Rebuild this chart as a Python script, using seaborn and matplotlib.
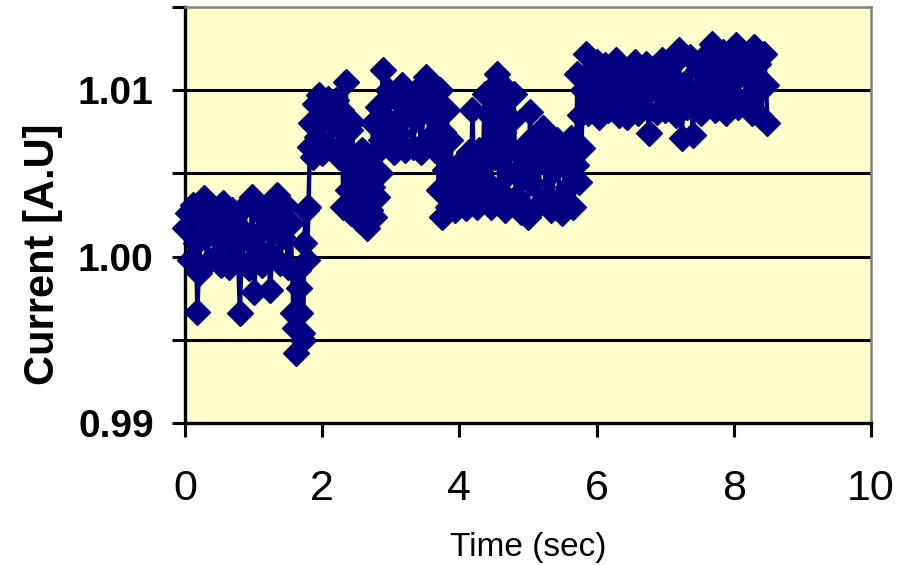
import matplotlib
matplotlib.use("Agg")
import matplotlib.pyplot as plt
import seaborn as sns
import pandas as pd

# Current trace, split into time windows (sec, A.U)
# 0 - 1.8 s : lower plateau with a few dips
t1 = [0.00, 0.04, 0.08, 0.12, 0.16, 0.18, 0.20, 0.24, 0.28, 0.32,
      0.36, 0.40, 0.44, 0.48, 0.52, 0.56, 0.60, 0.64, 0.68, 0.72,
      0.76, 0.80, 0.82, 0.86, 0.90, 0.94, 0.98, 1.01, 1.04, 1.08,
      1.12, 1.16, 1.20, 1.24, 1.27, 1.30, 1.34, 1.38, 1.42, 1.46,
      1.50, 1.54, 1.58, 1.60, 1.62, 1.64, 1.66, 1.68, 1.70, 1.72,
      1.74, 1.76, 1.78, 1.80]
i1 = [1.0017, 1.0026, 0.9998, 1.0031, 1.0008, 0.9967, 0.9990, 1.0022, 1.0035, 0.9996,
      1.0014, 1.0030, 1.0000, 1.0024, 0.9995, 1.0032, 1.0010, 0.9994, 1.0028, 1.0005,
      1.0019, 0.9966, 0.9997, 1.0030, 1.0012, 0.9993, 1.0036, 0.9979, 1.0006, 1.0027,
      0.9995, 1.0018, 1.0030, 0.9980, 1.0001, 1.0024, 1.0037, 0.9996, 1.0012, 1.0031,
      0.9994, 1.0020, 0.9966, 0.9957, 0.9942, 0.9992, 0.9981, 0.9966, 0.9954, 0.9950,
      1.0008, 1.0028, 0.9998, 1.0030]

# 1.8 - 2.9 s : jump up, then switching between two levels
t2 = [1.82, 1.84, 1.87, 1.90, 1.93, 1.96, 2.00, 2.04, 2.08, 2.12,
      2.16, 2.20, 2.24, 2.28, 2.31, 2.34, 2.36, 2.38, 2.40, 2.42,
      2.44, 2.46, 2.48, 2.50, 2.52, 2.54, 2.56, 2.58, 2.60, 2.62,
      2.64, 2.66, 2.68, 2.70, 2.72, 2.74, 2.76, 2.78, 2.80, 2.82,
      2.84, 2.86, 2.88]
i2 = [1.0066, 1.0080, 1.0060, 1.0092, 1.0072, 1.0097, 1.0062, 1.0086, 1.0095, 1.0066,
      1.0079, 1.0094, 1.0060, 1.0088, 1.0030, 1.0105, 1.0082, 1.0040, 1.0076, 1.0026,
      1.0081, 1.0050, 1.0030, 1.0060, 1.0038, 1.0022, 1.0052, 1.0064, 1.0034, 1.0046,
      1.0020, 1.0017, 1.0056, 1.0028, 1.0042, 1.0080, 1.0024, 1.0062, 1.0036, 1.0090,
      1.0050, 1.0070, 1.0112]

# 2.9 - 3.9 s : upper level
t3 = [2.92, 2.96, 3.00, 3.04, 3.08, 3.12, 3.16, 3.20, 3.24, 3.28,
      3.32, 3.36, 3.40, 3.44, 3.48, 3.52, 3.56, 3.60, 3.64, 3.68,
      3.70, 3.72, 3.74, 3.76, 3.79, 3.82, 3.84, 3.87, 3.90]
i3 = [1.0068, 1.0100, 1.0080, 1.0063, 1.0095, 1.0074, 1.0103, 1.0064, 1.0087, 1.0098,
      1.0066, 1.0082, 1.0101, 1.0063, 1.0090, 1.0108, 1.0071, 1.0096, 1.0064, 1.0085,
      1.0040, 1.0100, 1.0024, 1.0075, 1.0052, 1.0088, 1.0030, 1.0070, 1.0045]

# 3.9 - 5.8 s : middle level with upward bursts
t4 = [3.94, 3.98, 4.02, 4.06, 4.10, 4.14, 4.17, 4.19, 4.21, 4.25,
      4.29, 4.33, 4.37, 4.40, 4.43, 4.46, 4.49, 4.52, 4.55, 4.58,
      4.61, 4.64, 4.67, 4.70, 4.73, 4.76, 4.79, 4.82, 4.86, 4.90,
      4.94, 4.98, 5.00, 5.03, 5.06, 5.10, 5.14, 5.18, 5.22, 5.26,
      5.30, 5.34, 5.38, 5.42, 5.46, 5.50, 5.54, 5.58, 5.62, 5.66,
      5.70, 5.72, 5.74, 5.76, 5.78]
i4 = [1.0028, 1.0055, 1.0036, 1.0048, 1.0029, 1.0063, 1.0042, 1.0088, 1.0052, 1.0030,
      1.0064, 1.0038, 1.0098, 1.0045, 1.0085, 1.0030, 1.0102, 1.0060, 1.0110, 1.0040,
      1.0092, 1.0075, 1.0028, 1.0100, 1.0050, 1.0082, 1.0098, 1.0036, 1.0062, 1.0027,
      1.0050, 1.0068, 1.0024, 1.0087, 1.0044, 1.0070, 1.0031, 1.0058, 1.0077, 1.0036,
      1.0066, 1.0028, 1.0052, 1.0070, 1.0035, 1.0026, 1.0060, 1.0042, 1.0071, 1.0030,
      1.0055, 1.0110, 1.0045, 1.0085, 1.0065]

# 5.8 - 8.5 s : top level
t5 = [5.80, 5.84, 5.88, 5.92, 5.96, 6.00, 6.04, 6.08, 6.12, 6.16,
      6.20, 6.24, 6.28, 6.32, 6.36, 6.40, 6.44, 6.48, 6.52, 6.56,
      6.60, 6.64, 6.68, 6.72, 6.76, 6.80, 6.84, 6.88, 6.92, 6.96,
      7.00, 7.04, 7.08, 7.12, 7.16, 7.20, 7.24, 7.28, 7.32, 7.36,
      7.40, 7.44, 7.48, 7.52, 7.56, 7.60, 7.64, 7.68, 7.72, 7.76,
      7.80, 7.84, 7.88, 7.92, 7.96, 8.00, 8.03, 8.06, 8.10, 8.14,
      8.18, 8.22, 8.26, 8.29, 8.32, 8.36, 8.40, 8.44, 8.47, 8.49]
i5 = [1.0100, 1.0122, 1.0086, 1.0108, 1.0094, 1.0117, 1.0084, 1.0101, 1.0115, 1.0088,
      1.0106, 1.0093, 1.0118, 1.0085, 1.0099, 1.0112, 1.0084, 1.0104, 1.0091, 1.0117,
      1.0086, 1.0108, 1.0096, 1.0116, 1.0074, 1.0102, 1.0113, 1.0087, 1.0098, 1.0118,
      1.0088, 1.0107, 1.0094, 1.0116, 1.0085, 1.0124, 1.0071, 1.0104, 1.0090, 1.0120,
      1.0073, 1.0098, 1.0112, 1.0086, 1.0120, 1.0094, 1.0108, 1.0128, 1.0088, 1.0115,
      1.0099, 1.0123, 1.0086, 1.0106, 1.0118, 1.0093, 1.0127, 1.0090, 1.0110, 1.0120,
      1.0095, 1.0108, 1.0086, 1.0126, 1.0098, 1.0116, 1.0084, 1.0122, 1.0103, 1.0080]

y_ticks = [0.99, 0.995, 1.00, 1.005, 1.01, 1.015]
y_tick_labels = ["0.99", "", "1.00", "", "1.01", ""]
x_ticks = [0, 2, 4, 6, 8, 10]

df = pd.DataFrame({"time": t1 + t2 + t3 + t4 + t5,
                   "current": i1 + i2 + i3 + i4 + i5})

sns.set_style("white")
plt.rcParams["font.family"] = ["Liberation Sans", "DejaVu Sans"]
plt.rcParams["text.color"] = "black"
plt.rcParams["axes.labelcolor"] = "black"
plt.rcParams["xtick.color"] = "black"
plt.rcParams["ytick.color"] = "black"

fig = plt.figure(figsize=(9.02, 5.65), dpi=100)
ax = fig.add_axes([185 / 902, 1 - 423 / 565, 686 / 902, 416 / 565])
ax.set_facecolor("#FFFFCC")

navy = "#000080"
sns.lineplot(data=df, x="time", y="current", ax=ax, estimator=None, sort=False,
             color=navy, lw=3.2, marker="D", markersize=13,
             markeredgecolor=navy, markeredgewidth=1, clip_on=False, zorder=3)

ax.set_xlim(0, 10)
ax.set_ylim(0.99, 1.015)
ax.set_xticks(x_ticks)
ax.set_xticklabels([str(x) for x in x_ticks], fontsize=31)
ax.set_yticks(y_ticks)
ax.set_yticklabels(y_tick_labels, fontsize=28, fontweight="bold")

# black gridlines only inside the plot area
ax.grid(axis="y", color="black", lw=2.2, zorder=1)
gl = ax.yaxis.get_gridlines()
gl[0].set_visible(False)
gl[-1].set_visible(False)
ax.set_axisbelow(True)

for side in ["left", "bottom"]:
    ax.spines[side].set_color("black")
    ax.spines[side].set_linewidth(2.4)
for side in ["top", "right"]:
    ax.spines[side].set_color("#808080")
    ax.spines[side].set_linewidth(1.8)

ax.tick_params(axis="y", direction="out", length=9.5, width=2.2, pad=13, left=True)
ax.tick_params(axis="x", direction="out", length=10, width=2.2, pad=23, bottom=True)

ax.set_xlabel("Time (sec)", fontsize=24)
ax.xaxis.set_label_coords(0.5, -0.262)
ax.set_ylabel("Current [A.U]", fontsize=30, fontweight="bold")
ax.yaxis.set_label_coords(-0.178, 0.406)

fig.savefig("out.png", dpi=100)
